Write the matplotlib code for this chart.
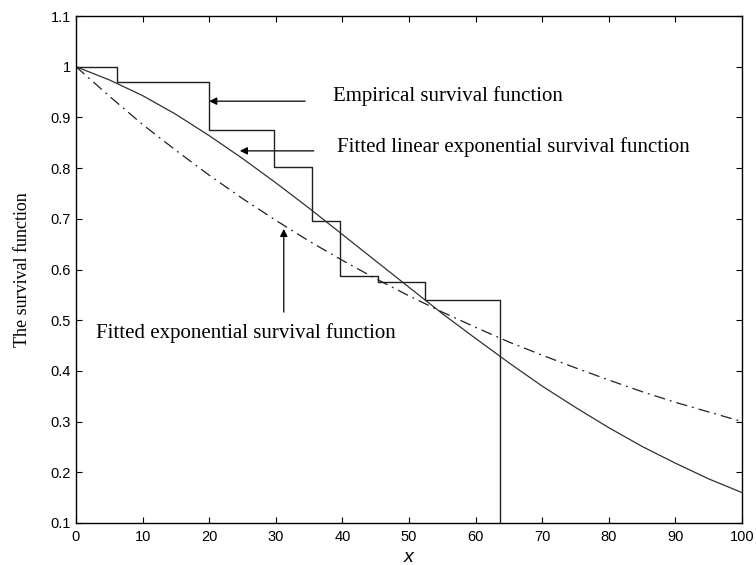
import matplotlib
matplotlib.use("Agg")
import matplotlib.pyplot as plt

# empirical survival function (step points)
step_x = [0, 6.2, 20.0, 29.7, 35.5, 39.7, 45.4, 52.4, 63.6, 63.6]
step_y = [1.0, 0.97, 0.875, 0.803, 0.695, 0.587, 0.576, 0.539, 0.539, 0.1]

# fitted curves
curve_x = [0, 5, 10, 15, 20, 25, 30, 35, 40, 45, 50,
           55, 60, 65, 70, 75, 80, 85, 90, 95, 100]
lin_exp_y = [1.0, 0.974, 0.943, 0.906, 0.864, 0.819, 0.771, 0.721, 0.669, 0.617, 0.565,
             0.513, 0.464, 0.416, 0.370, 0.328, 0.288, 0.251, 0.218, 0.187, 0.160]
exp_y = [1.0, 0.942, 0.886, 0.835, 0.786, 0.740, 0.697, 0.656, 0.618, 0.582, 0.548,
         0.516, 0.486, 0.457, 0.431, 0.406, 0.382, 0.359, 0.338, 0.319, 0.300]

x_ticks = [0, 10, 20, 30, 40, 50, 60, 70, 80, 90, 100]
y_ticks = [0.1, 0.2, 0.3, 0.4, 0.5, 0.6, 0.7, 0.8, 0.9, 1, 1.1]
y_tick_labels = ['0.1', '0.2', '0.3', '0.4', '0.5', '0.6', '0.7', '0.8', '0.9', '1', '1.1']

fig = plt.figure(figsize=(7.56, 5.65), dpi=100)
ax = fig.add_axes([76 / 756, 1 - 523 / 565, (742 - 76) / 756, (523 - 16) / 565])

ax.plot(step_x, step_y, color='#202020', lw=1.0, drawstyle='steps-post')
ax.plot(curve_x, lin_exp_y, color='#303030', lw=0.9, ls='-')
ax.plot(curve_x, exp_y, color='#202020', lw=0.9, ls=(0, (9, 4, 1.5, 4)))

ax.set_xlim(0, 100)
ax.set_ylim(0.1, 1.1)
ax.set_xticks(x_ticks)
ax.set_yticks(y_ticks)
ax.set_yticklabels(y_tick_labels)
ax.tick_params(direction='in', top=True, right=True, length=4, width=0.8,
               labelsize=10.5)
ax.tick_params(axis='x', pad=5)
ax.tick_params(axis='y', pad=3.5)
for lab in ax.get_xticklabels() + ax.get_yticklabels():
    lab.set_family('Liberation Sans')
for sp in ax.spines.values():
    sp.set_linewidth(1.0)

ax.set_xlabel('x', family='Liberation Sans', style='italic', fontsize=14, labelpad=4)
ax.set_ylabel('The survival function', family='Liberation Serif', fontsize=13, labelpad=14)

serif = dict(family='Liberation Serif', fontsize=15, va='center', ha='left')
arrow = dict(arrowstyle='-|>', color='black', lw=0.9, mutation_scale=11, shrinkA=0, shrinkB=0)

ax.text(38.6, 0.943, 'Empirical survival function', **serif)
ax.annotate('', xy=(20.0, 0.932), xytext=(34.4, 0.932), arrowprops=arrow)

ax.text(39.2, 0.841, 'Fitted linear exponential survival function', **serif)
ax.annotate('', xy=(24.6, 0.834), xytext=(35.7, 0.834), arrowprops=arrow)

ax.text(3.0, 0.474, 'Fitted exponential survival function', **serif)
ax.annotate('', xy=(31.2, 0.68), xytext=(31.2, 0.516), arrowprops=arrow)

fig.savefig('out.png', dpi=100)
